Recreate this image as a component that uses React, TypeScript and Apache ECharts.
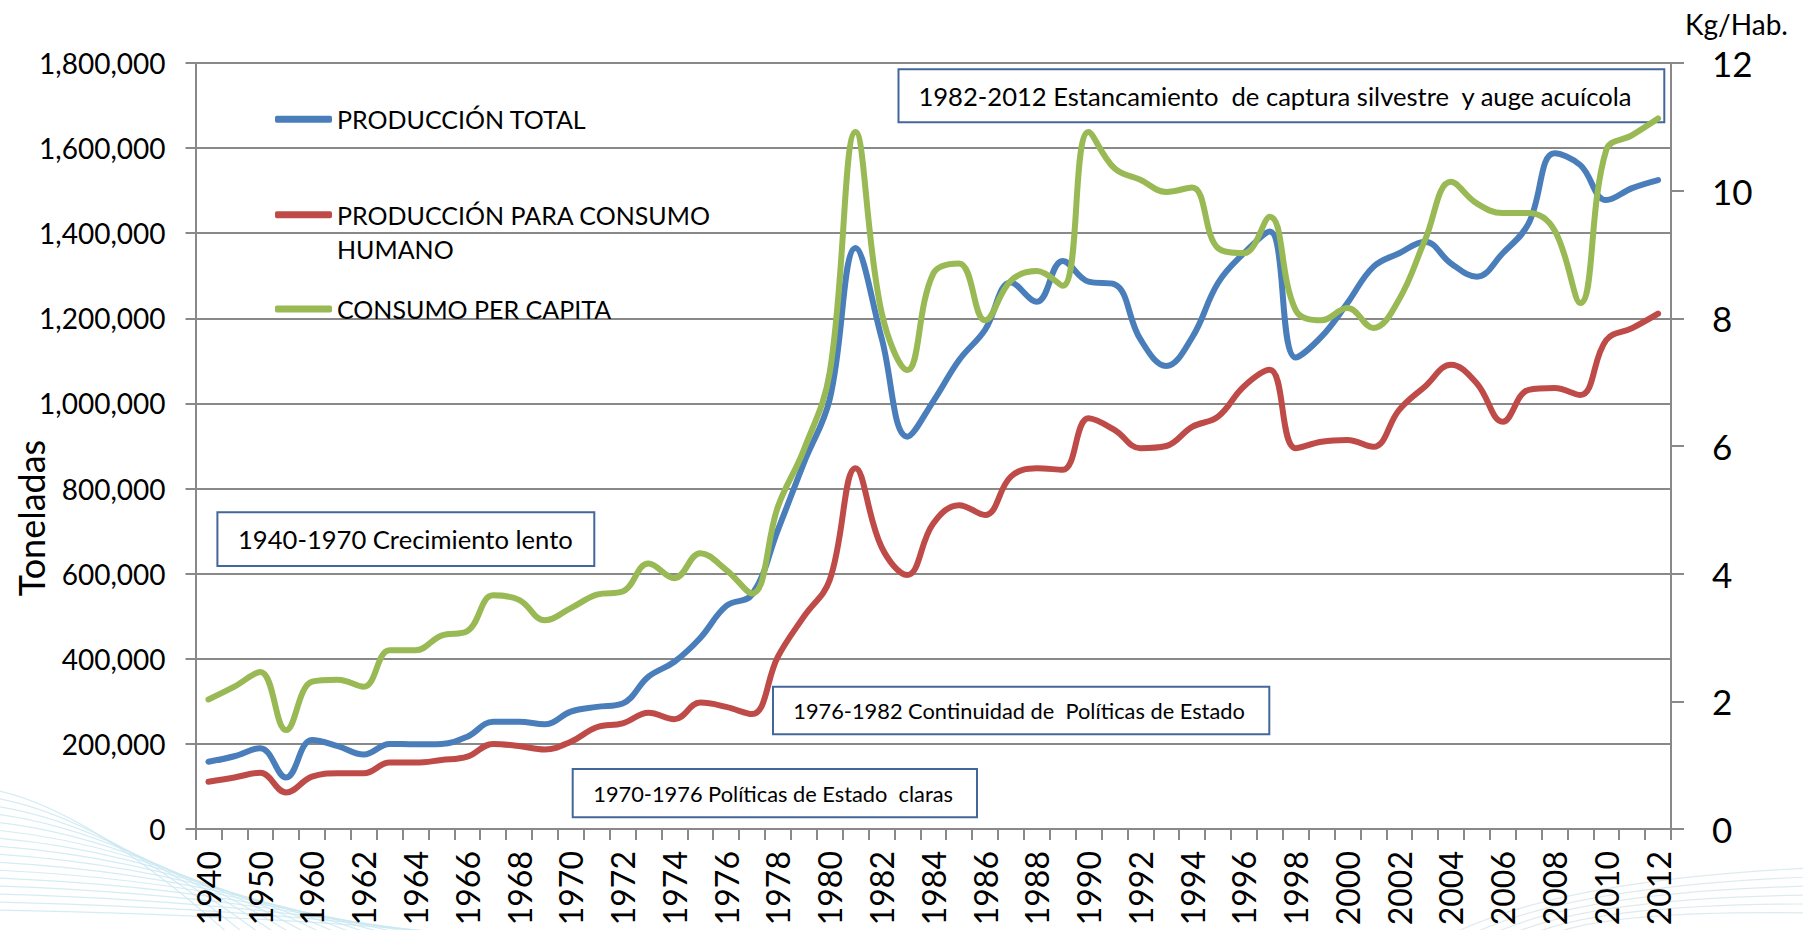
import React, { useEffect, useRef } from 'react';
import * as echarts from 'echarts';

const years = [
  '1940', '1945', '1950', '1955', '1960', '1961', '1962', '1963', '1964', '1965',
  '1966', '1967', '1968', '1969', '1970', '1971', '1972', '1973', '1974', '1975',
  '1976', '1977', '1978', '1979', '1980', '1981', '1982', '1983', '1984', '1985',
  '1986', '1987', '1988', '1989', '1990', '1991', '1992', '1993', '1994', '1995',
  '1996', '1997', '1998', '1999', '2000', '2001', '2002', '2003', '2004', '2005',
  '2006', '2007', '2008', '2009', '2010', '2011', '2012',
];

const produccionTotal = [
  158000, 171000, 190000, 121000, 209000, 195000, 175000, 200000, 199000, 200000,
  217000, 252000, 252000, 246000, 276000, 287000, 295000, 358000, 393000, 449000,
  524000, 551000, 703000, 860000, 1010000, 1365000, 1155000, 922000, 1005000, 1102000,
  1173000, 1284000, 1239000, 1335000, 1286000, 1280000, 1151000, 1088000, 1155000, 1283000,
  1353000, 1404000, 1108000, 1157000, 1236000, 1321000, 1353000, 1380000, 1329000, 1298000,
  1353000, 1423000, 1588000, 1560000, 1478000, 1506000, 1525000,
];

const consumoHumano = [
  111000, 121000, 132000, 86000, 123000, 131000, 131000, 156000, 156000, 162000,
  170000, 200000, 195000, 187000, 205000, 239000, 248000, 273000, 258000, 297000,
  287000, 270000, 405000, 499000, 585000, 848000, 663000, 597000, 718000, 761000,
  738000, 828000, 848000, 844000, 965000, 938000, 895000, 900000, 945000, 969000,
  1040000, 1079000, 895000, 910000, 914000, 898000, 985000, 1040000, 1091000, 1047000,
  957000, 1032000, 1036000, 1020000, 1149000, 1177000, 1211000,
];

const consumoPerCapita = [
  2.03, 2.23, 2.46, 1.55, 2.31, 2.34, 2.23, 2.8, 2.8, 3.03,
  3.1, 3.66, 3.59, 3.27, 3.46, 3.67, 3.72, 4.16, 3.93, 4.32,
  4.06, 3.69, 5.05, 5.94, 7.15, 10.92, 8.1, 7.19, 8.7, 8.86,
  7.97, 8.59, 8.74, 8.51, 10.92, 10.35, 10.17, 9.98, 10.05, 9.1,
  9.02, 9.59, 8.13, 7.97, 8.16, 7.85, 8.3, 9.23, 10.14, 9.8,
  9.65, 9.65, 9.38, 8.24, 10.64, 10.87, 11.13,
];

const seriesNames = ['PRODUCCIÓN TOTAL', 'PRODUCCIÓN PARA CONSUMO HUMANO', 'CONSUMO PER CAPITA'];
const legendLines = ['PRODUCCIÓN PARA CONSUMO', 'HUMANO'];
const seriesColors = ['#4A7EBB', '#BE4B48', '#98B954'];

const annotations = [
  '1982-2012 Estancamiento  de captura silvestre  y auge acuícola',
  '1940-1970 Crecimiento lento',
  '1976-1982 Continuidad de  Políticas de Estado',
  '1970-1976 Políticas de Estado  claras',
];

const FONT = 'Lato';
const GRID_COLOR = '#898989';
const BOX_COLOR = '#44679B';
const LEGEND_FONT = 25;

function boxGraphic(text: string, x: number, y: number, w: number, h: number, tx: number, fontSize: number) {
  return {
    type: 'group',
    z: 1,
    children: [
      {
        type: 'rect',
        shape: { x, y, width: w, height: h },
        style: { fill: '#ffffff', stroke: BOX_COLOR, lineWidth: 2 },
      },
      {
        type: 'text',
        x: tx,
        y: y + h / 2,
        style: {
          text,
          fontFamily: FONT,
          fontSize,
          fill: '#000000',
          align: 'left',
          verticalAlign: 'middle',
        },
      },
    ],
  };
}

function decoCurves() {
  const out: any[] = [];
  for (let k = 0; k < 16; k++) {
    out.push({
      type: 'bezierCurve',
      silent: true,
      z: 0,
      shape: {
        x1: -5,
        y1: 790 + k * 8,
        cpx1: 90 + k * 12,
        cpy1: 810 + k * 7,
        x2: 230 + k * 16,
        y2: 935,
      },
      style: { stroke: '#c9e7f1', lineWidth: 1.2, fill: 'none', opacity: 0.8 },
    });
  }
  for (let k = 0; k < 6; k++) {
    out.push({
      type: 'bezierCurve',
      silent: true,
      z: 0,
      shape: {
        x1: 1450 + k * 20,
        y1: 935,
        cpx1: 1560 + k * 10,
        cpy1: 880 + k * 6,
        x2: 1810,
        y2: 868 + k * 9,
      },
      style: { stroke: '#d6e6ea', lineWidth: 1.2, fill: 'none', opacity: 0.8 },
    });
  }
  return out;
}

const legendCommon = {
  orient: 'vertical',
  left: 275,
  padding: 0,
  itemWidth: 57,
  itemHeight: 7,
  icon: 'roundRect',
  selectedMode: false,
  textStyle: { fontFamily: FONT, fontSize: LEGEND_FONT, color: '#000000', lineHeight: 35 },
};

export default function App() {
  const ref = useRef<HTMLDivElement>(null);
  useEffect(() => {
    const chart = echarts.init(ref.current as HTMLDivElement, null, { renderer: 'svg' });
    const option: any = {
      animation: false,
      backgroundColor: '#ffffff',
      grid: { left: 195.5, right: 132, top: 63, bottom: 101, containLabel: false, outerBoundsMode: 'none' },
      legend: [
        { ...legendCommon, top: 101.8, data: [seriesNames[0]] },
        {
          ...legendCommon,
          top: 197.2,
          data: [seriesNames[1]],
          formatter: () => legendLines[0],
        },
        { ...legendCommon, top: 291.5, data: [seriesNames[2]] },
      ],
      xAxis: {
        type: 'category',
        data: years,
        boundaryGap: true,
        axisLine: { show: true, lineStyle: { color: GRID_COLOR, width: 2 } },
        axisTick: { show: true, interval: 0, length: 11, alignWithLabel: false, lineStyle: { color: GRID_COLOR, width: 2 } },
        axisLabel: {
          interval: 1,
          rotate: 90,
          margin: 22,
          fontFamily: FONT,
          fontSize: 32,
          color: '#000000',
        },
        splitLine: { show: false },
      },
      yAxis: [
        {
          type: 'value',
          min: 0,
          max: 1800000,
          interval: 200000,
          position: 'left',
          name: 'Toneladas',
          nameLocation: 'middle',
          nameRotate: 90,
          nameGap: 165,
          nameMoveOverlap: false,
          nameTextStyle: {
            fontFamily: FONT,
            fontSize: 36,
            color: '#000000',
            verticalAlign: 'middle',
            padding: [0, 144, 0, 0],
          },
          axisLine: { show: true, lineStyle: { color: GRID_COLOR, width: 2 } },
          axisTick: { show: true, length: 10, lineStyle: { color: GRID_COLOR, width: 2 } },
          axisLabel: {
            margin: 30,
            fontFamily: FONT,
            fontSize: 28,
            color: '#000000',
            formatter: (v: number) => v.toLocaleString('en-US'),
          },
          splitLine: { show: true, lineStyle: { color: GRID_COLOR, width: 2 } },
        },
        {
          type: 'value',
          min: 0,
          max: 12,
          interval: 2,
          position: 'right',
          name: 'Kg/Hab.',
          nameLocation: 'end',
          nameGap: 39,
          nameMoveOverlap: false,
          nameTextStyle: {
            fontFamily: FONT,
            fontSize: 28,
            color: '#000000',
            align: 'left',
            verticalAlign: 'middle',
            padding: [0, 0, 0, 14],
          },
          axisLine: { show: true, lineStyle: { color: GRID_COLOR, width: 2 } },
          axisTick: { show: true, length: 13, lineStyle: { color: GRID_COLOR, width: 2 } },
          axisLabel: {
            margin: 41,
            fontFamily: FONT,
            fontSize: 35,
            color: '#000000',
          },
          splitLine: { show: false },
        },
      ],
      series: [
        {
          name: seriesNames[0],
          type: 'line',
          yAxisIndex: 0,
          data: produccionTotal,
          smooth: 0.4,
          symbol: 'none',
          color: seriesColors[0],
          lineStyle: { width: 6, color: seriesColors[0], cap: 'round', join: 'round' },
          z: 3,
        },
        {
          name: seriesNames[1],
          type: 'line',
          yAxisIndex: 0,
          data: consumoHumano,
          smooth: 0.4,
          symbol: 'none',
          color: seriesColors[1],
          lineStyle: { width: 6, color: seriesColors[1], cap: 'round', join: 'round' },
          z: 4,
        },
        {
          name: seriesNames[2],
          type: 'line',
          yAxisIndex: 1,
          data: consumoPerCapita,
          smooth: 0.4,
          symbol: 'none',
          color: seriesColors[2],
          lineStyle: { width: 6, color: seriesColors[2], cap: 'round', join: 'round' },
          z: 5,
        },
      ],
      graphic: [
        ...decoCurves(),
        {
          type: 'text',
          z: 1,
          x: 337,
          y: 249,
          style: {
            text: legendLines[1],
            fontFamily: FONT,
            fontSize: LEGEND_FONT,
            fill: '#000000',
            align: 'left',
            verticalAlign: 'middle',
          },
        },
        boxGraphic(annotations[0], 898.5, 69.3, 765.8, 53, 918.4, 25.6),
        boxGraphic(annotations[1], 217.4, 512.3, 376.9, 53.7, 238, 25.6),
        boxGraphic(annotations[2], 773, 686.7, 496.3, 47.6, 793.3, 21.8),
        boxGraphic(annotations[3], 572.7, 769, 404.3, 48.3, 593.3, 21.8),
      ],
    };
    chart.setOption(option);
    return () => chart.dispose();
  }, []);
  return (
    <div
      ref={ref}
      style={{ position: 'absolute', left: 0, top: 0, width: 1803, height: 930 }}
    />
  );
}
